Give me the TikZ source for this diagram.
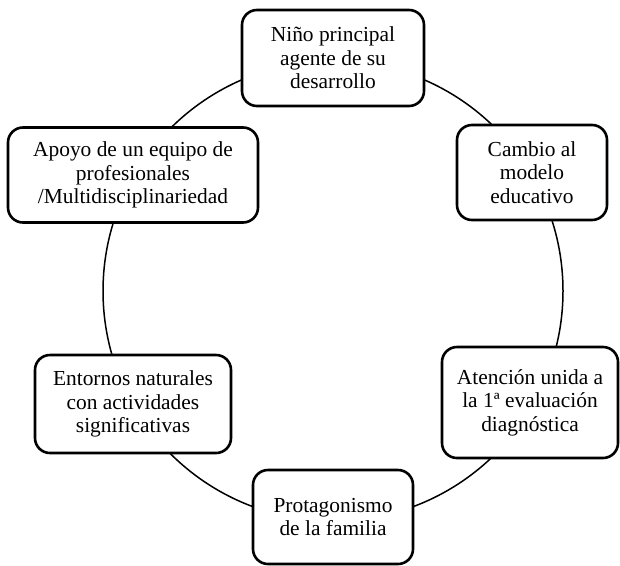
\documentclass[tikz,border=0pt]{standalone}
\usepackage{fontspec}
\setmainfont{Liberation Serif}
\begin{document}
\begin{tikzpicture}[x=1pt,y=-1pt,
  cyclebox/.style={draw=black, line width=2.6pt, fill=white, rounded corners=15pt,
    align=center, inner sep=0pt, font=\fontsize{21.4}{23.5}\selectfont},
  ring/.style={draw=black, line width=1.5pt}]
\useasboundingbox (0,0) rectangle (620,565);
\coordinate (c) at (333,291);
\draw[ring] (c) circle[radius=230];
\node[cyclebox, minimum width=182pt, minimum height=96pt] (nino) at (333,58) {Niño principal\\agente de su\\desarrollo};
\node[cyclebox, minimum width=150pt, minimum height=95pt] (cambio) at (532,172.5) {Cambio al\\modelo\\educativo};
\node[cyclebox, minimum width=176pt, minimum height=111pt] (atencion) at (530,402.5) {Atención unida a\\la 1ª evaluación\\diagnóstica};
\node[cyclebox, minimum width=160pt, minimum height=94pt] (protag) at (333,517) {Protagonismo\\de la familia};
\node[cyclebox, minimum width=196pt, minimum height=98pt] (entornos) at (133,404) {Entornos naturales\\con actividades\\significativas};
\node[cyclebox, minimum width=250pt, minimum height=95pt] (apoyo) at (133,175) {Apoyo de un equipo de\\profesionales\\/Multidisciplinariedad};
\end{tikzpicture}
\end{document}
